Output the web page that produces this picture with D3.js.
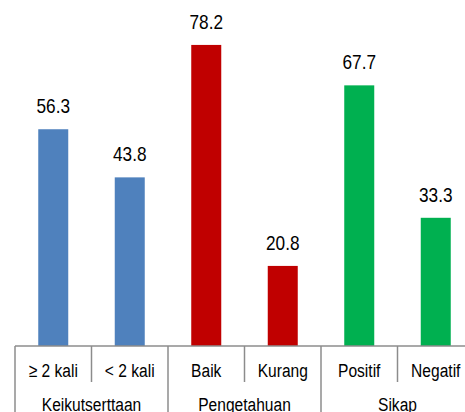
<!DOCTYPE html>
<html>
<head>
<meta charset="utf-8">
<script src="https://cdn.jsdelivr.net/npm/d3@7"></script>
<style>
  body { margin: 0; background: #fff; }
  svg text { font-family: "Liberation Sans Narrow", "Arial Narrow", "Liberation Sans", Arial, sans-serif; fill: #000; }
</style>
</head>
<body>
<div id="chart"></div>
<script>
// data
var categories = ["≥ 2 kali", "< 2 kali", "Baik", "Kurang", "Positif", "Negatif"];
var groups = ["Keikutserttaan", "Keikutserttaan", "Pengetahuan", "Pengetahuan", "Sikap", "Sikap"];
var values = [56.3, 43.8, 78.2, 20.8, 67.7, 33.3];
var colors = ["#4F81BD", "#4F81BD", "#C00000", "#C00000", "#00B050", "#00B050"];

// canvas
var width = 465;
var height = 412;
var baseY = 346;
var bandW = 76.5;
var left = 15;
var narrow = 0.82; // no narrow font installed, squeeze text instead

var svg = d3.select("#chart")
    .append("svg")
    .attr("width", width)
    .attr("height", height);

// x scale (one band per category)
var xScale = d3.scaleBand()
    .domain(d3.range(categories.length))
    .range([left, left + bandW * categories.length])
    .padding(0);

// y scale
var yScale = d3.scaleLinear()
    .domain([0, 90])
    .range([baseY, baseY - 90 * 3.85]);

var barW = 30;

// bars
svg.selectAll(".bar")
    .data(values)
    .enter()
    .append("rect")
    .attr("class", "bar")
    .attr("x", function(d, i) { return xScale(i) + xScale.bandwidth() / 2 - barW / 2; })
    .attr("y", function(d) { return yScale(d); })
    .attr("width", barW)
    .attr("height", function(d) { return baseY - yScale(d); })
    .attr("fill", function(d, i) { return colors[i]; });

// value labels
svg.selectAll(".val")
    .data(values)
    .enter()
    .append("text")
    .attr("class", "val")
    .attr("transform", function(d, i) {
        return "translate(" + (xScale(i) + xScale.bandwidth() / 2) + "," + (yScale(d) - 16) + ") scale(" + narrow + ",1)";
    })
    .attr("text-anchor", "middle")
    .style("font-size", "21px")
    .text(function(d) { return d.toFixed(1); });

// x axis (category labels)
var xAxis = d3.axisBottom(xScale)
    .tickSize(0)
    .tickFormat(function(i) { return categories[i]; });

var ax = svg.append("g")
    .attr("transform", "translate(0," + baseY + ")")
    .call(xAxis);
ax.select(".domain").remove();
ax.selectAll("text")
    .attr("y", 31)
    .attr("dy", null)
    .attr("transform", "scale(" + narrow + ",1)")
    .style("font-size", "19px")
    .style("font-family", null);

// axis line
svg.append("line")
    .attr("x1", left)
    .attr("x2", width)
    .attr("y1", baseY)
    .attr("y2", baseY)
    .attr("stroke", "#8c8c8c")
    .attr("stroke-width", 1.5);

// dividers: long at group starts, short inside groups
svg.selectAll(".div")
    .data(d3.range(categories.length + 1))
    .enter()
    .append("line")
    .attr("class", "div")
    .attr("x1", function(i) { return i < categories.length ? xScale(i) : xScale.range()[1]; })
    .attr("x2", function(i) { return i < categories.length ? xScale(i) : xScale.range()[1]; })
    .attr("y1", baseY)
    .attr("y2", function(i) {
        var isGroupStart = i === 0 || i === categories.length || groups[i] !== groups[i - 1];
        return isGroupStart ? height : baseY + 36;
    })
    .attr("stroke", "#8c8c8c")
    .attr("stroke-width", 1.5);

// group labels
var groupNames = Array.from(new Set(groups));
svg.selectAll(".grp")
    .data(groupNames)
    .enter()
    .append("text")
    .attr("class", "grp")
    .attr("transform", function(g) {
        var idx = d3.range(groups.length).filter(function(i) { return groups[i] === g; });
        var cx = (xScale(idx[0]) + xScale(idx[idx.length - 1]) + xScale.bandwidth()) / 2;
        return "translate(" + cx + ",411) scale(" + narrow + ",1)";
    })
    .attr("text-anchor", "middle")
    .style("font-size", "19px")
    .text(function(g) { return g; });
</script>
</body>
</html>
